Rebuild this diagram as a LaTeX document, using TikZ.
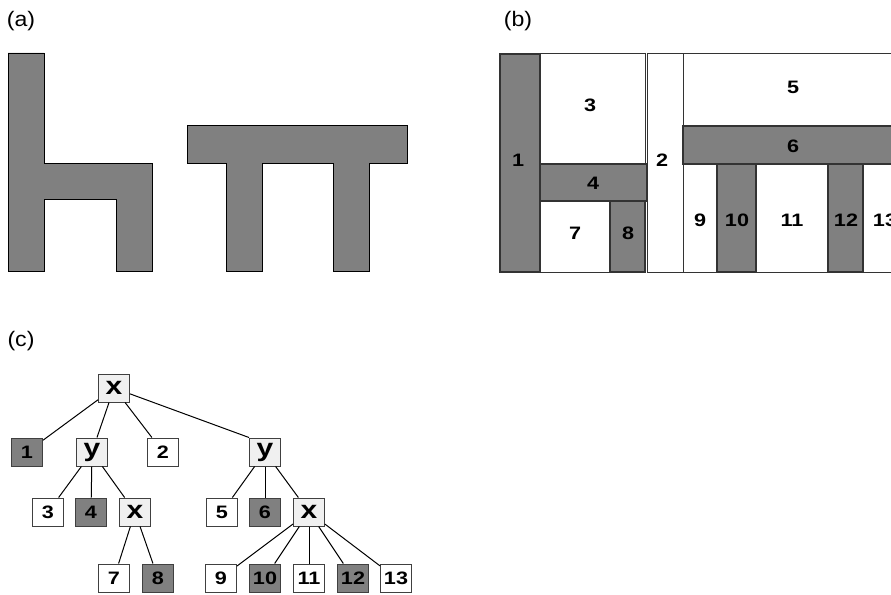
\documentclass[tikz,border=0pt]{standalone}
\usepackage{fontspec}
\setmainfont{Liberation Sans}
\newfontfamily\widefont[FakeStretch=1.2]{Liberation Sans}
\newfontfamily\tagfont[FakeStretch=1.1]{Liberation Sans}
\definecolor{shade}{gray}{0.5}
\definecolor{opfill}{gray}{0.94}
\begin{document}
\begin{tikzpicture}[x=1pt,y=-1pt,
    piece/.style ={draw=black, fill=shade, line width=0.8pt},
    region/.style ={draw=black!80, fill=white, line width=1pt},
    block/.style ={draw=black!80, fill=shade, line width=1.3pt},
    num/.style ={font=\widefont\fontsize{18}{18}\selectfont\bfseries, inner sep=0pt},
    tag/.style ={font=\tagfont\fontsize{21}{21}\selectfont, inner sep=0pt},
    leaf/.style ={rectangle, draw=black!75, line width=1pt, fill=white, minimum width=31pt,
      minimum height=28pt, inner sep=0pt, font=\widefont\fontsize{18}{18}\selectfont\bfseries},
    dark/.style ={leaf, fill=shade},
    op/.style ={leaf, fill=opfill, font=\widefont\fontsize{25}{25}\selectfont\bfseries},
    branch/.style ={line width=1pt, black}]
   \clip (0,0) rectangle (891,594);
   % (a)
   \node[tag] (tagA) at (21,21) {(a)};
   \draw[piece] (8,53) -- (44,53) -- (44,163) -- (152,163) -- (152,271) -- (116,271)
     -- (116,199) -- (44,199) -- (44,271) -- (8,271) -- cycle;
   \draw[piece] (187,125) -- (407,125) -- (407,163) -- (369,163) -- (369,271) -- (333,271)
     -- (333,163) -- (262,163) -- (262,271) -- (226,271) -- (226,163) -- (187,163) -- cycle;
   % (b)
   \node[tag] (tagB) at (518,21) {(b)};
   \draw[region] (540,54) rectangle (645,164);
   \draw[region] (540,201) rectangle (610,272);
   \draw[region] (647,54) rectangle (683,272);
   \draw[region] (683,54) rectangle (905,126);
   \draw[region] (683,164) rectangle (717,272);
   \draw[region] (756,164) rectangle (828,272);
   \draw[region] (863,164) rectangle (905,272);
   \draw[block] (500,54) rectangle (540,272);
   \draw[block] (540,164) rectangle (647,201);
   \draw[block] (610,201) rectangle (645,272);
   \draw[block] (683,126) rectangle (905,164);
   \draw[block] (717,164) rectangle (756,272);
   \draw[block] (828,164) rectangle (863,272);
   \node[num] (b1) at (518,160) {1};
   \node[num] (b2) at (662,160) {2};
   \node[num] (b3) at (590,105) {3};
   \node[num] (b4) at (593,183) {4};
   \node[num] (b5) at (793,87) {5};
   \node[num] (b6) at (793,146) {6};
   \node[num] (b7) at (575,233) {7};
   \node[num] (b8) at (628,233) {8};
   \node[num] (b9) at (700,220) {9};
   \node[num] (b10) at (737,220) {10};
   \node[num] (b11) at (792,220) {11};
   \node[num] (b12) at (846,220) {12};
   \node[num] (b13) at (885,220) {13};
   % (c)
   \node[tag] (tagC) at (21,341) {(c)};
   \node[op] (X)  at (114,388) {x};
   \node[dark] (L1)  at (27,452) {1};
   \node[op] (Y1)  at (92,452) {y};
   \node[leaf] (L2)  at (163,452) {2};
   \node[op] (Y2)  at (265,452) {y};
   \node[leaf] (L3)  at (48,512) {3};
   \node[dark] (L4)  at (91,512) {4};
   \node[op] (X2)  at (135,512) {x};
   \node[leaf] (L5)  at (222,512) {5};
   \node[dark] (L6)  at (265,512) {6};
   \node[op] (X3)  at (309,512) {x};
   \node[leaf] (L7)  at (114,578) {7};
   \node[dark] (L8)  at (158,578) {8};
   \node[leaf] (L9)  at (221,578) {9};
   \node[dark] (L10)  at (265,578) {10};
   \node[leaf] (L11)  at (309,578) {11};
   \node[dark] (L12)  at (353,578) {12};
   \node[leaf] (L13)  at (396,578) {13};
   \draw[branch] (X) -- (L1);
   \draw[branch] (X) -- (Y1);
   \draw[branch] (X) -- (L2);
   \draw[branch] (X) -- (Y2.north west);
   \draw[branch] (Y1) -- (L3);
   \draw[branch] (Y1) -- (L4);
   \draw[branch] (Y1) -- (X2);
   \draw[branch] (X2) -- (L7);
   \draw[branch] (X2) -- (L8);
   \draw[branch] (Y2) -- (L5);
   \draw[branch] (Y2) -- (L6);
   \draw[branch] (Y2) -- (X3);
   \draw[branch] (X3) -- (L9);
   \draw[branch] (X3) -- (L10);
   \draw[branch] (X3) -- (L11);
   \draw[branch] (X3) -- (L12);
   \draw[branch] (X3) -- (L13);
 \end{tikzpicture}
\end{document}
